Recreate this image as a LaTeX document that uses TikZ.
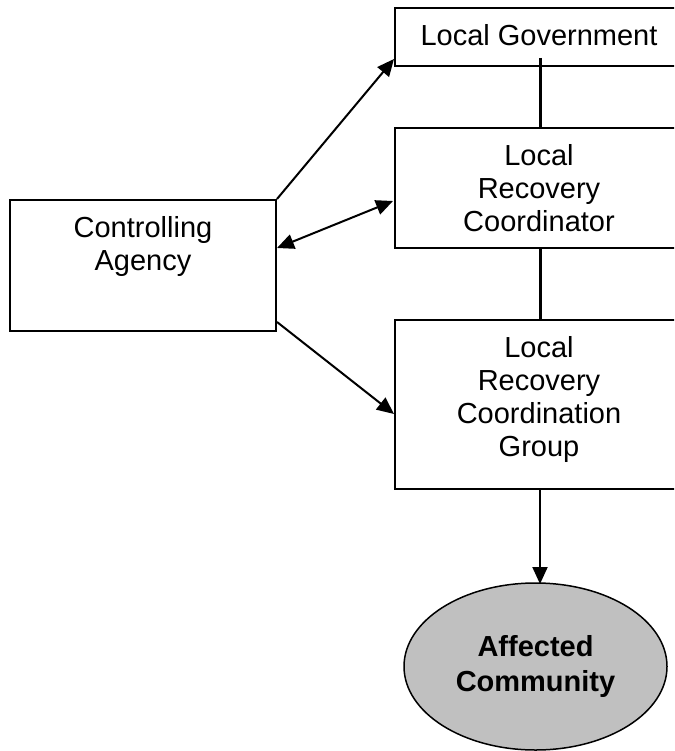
\documentclass[tikz,border=0pt]{standalone}
\usepackage{fontspec}
\setmainfont{Liberation Sans}
\usetikzlibrary{arrows.meta,calc,shapes.geometric}
\definecolor{commgray}{RGB}{192,192,192}
\begin{document}
\begin{tikzpicture}[x=1pt,y=-1pt]
  \tikzstyle{box}=[rectangle,draw,line width=2pt,inner sep=0pt,anchor=north west]
  \tikzstyle{txt}=[anchor=north,inner sep=17pt,align=center,font=\fontsize{29}{33}\selectfont]
  \tikzstyle{link}=[line width=2pt]
  \tikzstyle{tip}=[-{Triangle[length=17pt,width=15pt]}]
  \useasboundingbox (0,0) rectangle (674,751);
  \clip (0,0) rectangle (674,751);
  % boxes
  \node[box,minimum width=288pt,minimum height=58pt,
        label={[txt]north:{Local Government}}] (lg) at (394,7) {};
  \node[box,minimum width=288pt,minimum height=120pt,
        label={[txt]north:{Local\\Recovery\\Coordinator}}] (lrc) at (394,127) {};
  \node[box,minimum width=288pt,minimum height=169pt,
        label={[txt]north:{Local\\Recovery\\Coordination\\Group}}] (lrcg) at (394,319) {};
  \node[box,minimum width=266pt,minimum height=131pt,
        label={[txt]north:{Controlling\\Agency}}] (ca) at (9,199) {};
  \node[ellipse,draw,fill=commgray,line width=1.5pt,minimum width=263pt,
        minimum height=167pt,inner sep=0pt,align=center,
        font=\bfseries\fontsize{29}{35}\selectfont] (comm) at (535.5,666.5) {Affected\\Community};
  % vertical chain
  \draw[line width=3pt] ($(lg.south)+(1,-9)$) -- ($(lrc.north)+(1,0)$);
  \draw[line width=3pt] ($(lrc.south)+(1,0)$) -- ($(lrcg.north)+(1,0)$);
  \draw[link,tip] ($(lrcg.south)+(1,0)$) -- ($(lrcg.south)+(1,94)$);
  % from the agency
  \draw[link,tip] (ca.north east) -- ($(lg.south west)+(0,-8)$);
  \draw[link,{Triangle[length=17pt,width=15pt]}-{Triangle[length=17pt,width=15pt]}]
    ($(ca.east)+(0,-17.5)$) -- ($(lrc.west)+(-1,13)$);
  \draw[link,tip] ($(ca.south east)+(0,-10)$) -- ($(lrcg.west)+(0,9.5)$);
\end{tikzpicture}
\end{document}
